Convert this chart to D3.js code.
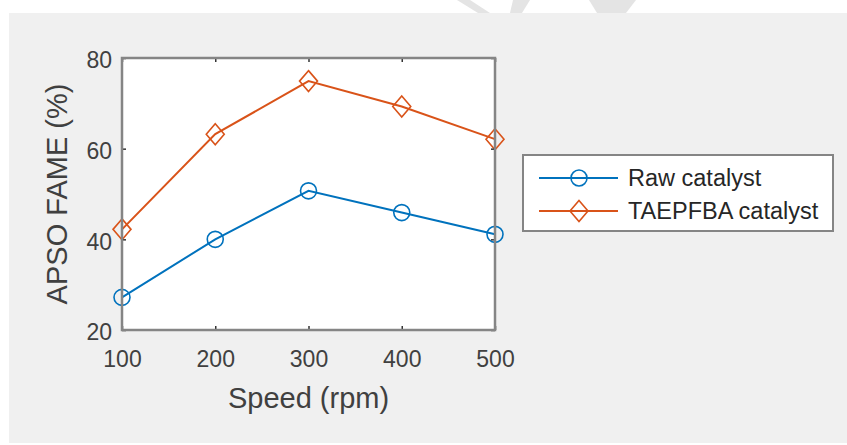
<!DOCTYPE html>
<html>
<head>
<meta charset="utf-8">
<script src="https://cdn.jsdelivr.net/npm/d3@7"></script>
<style>
  body { margin: 0; background: #fff; }
  svg { display: block; font-family: "Liberation Sans", Arial, Helvetica, sans-serif; }
</style>
</head>
<body>
<div id="chart"></div>
<script>
// data
const speeds = [100, 200, 300, 400, 500];
const rawFame = [27.2, 40.0, 50.7, 45.9, 41.1];
const taepfbaFame = [42.2, 63.2, 74.9, 69.3, 62.1];
const xTicks = [100, 200, 300, 400, 500];
const yTicks = [20, 40, 60, 80];
const seriesNames = ['Raw catalyst', 'TAEPFBA catalyst'];

const W = 847, H = 445;
const margin = {top: 58, left: 122, right: 352, bottom: 115};
const blue = '#0072BD', orange = '#D95319';
const boxColor = '#858585';

const svg = d3.select('#chart').append('svg').attr('width', W).attr('height', H);

// figure background
svg.append('rect').attr('x', 9).attr('y', 13).attr('width', W - 9).attr('height', 430).attr('fill', '#f0f0f0');

// faint watermark bits in the top strip
svg.append('path').attr('d', 'M457,0 L478,13 L490,13 L470,0 Z').attr('fill', '#e4e4e4');
svg.append('path').attr('d', 'M513,0 L530,0 L522,13 L510,13 Z').attr('fill', '#e4e4e4');
svg.append('path').attr('d', 'M589,0 L636,0 L626,13 L597,13 Z').attr('fill', '#e4e4e4');

const x = d3.scaleLinear().domain([100, 500]).range([margin.left, W - margin.right]);
const y = d3.scaleLinear().domain([20, 80]).range([H - margin.bottom, margin.top]);

// plot area
svg.append('rect')
  .attr('x', x(100)).attr('y', y(80))
  .attr('width', x(500) - x(100)).attr('height', y(20) - y(80))
  .attr('fill', '#fff');

// lines + markers
const lineFun = d3.line().x(d => x(d[0])).y(d => y(d[1]));
const rawPts = speeds.map((s, i) => [s, rawFame[i]]);
const taePts = speeds.map((s, i) => [s, taepfbaFame[i]]);

function diamond(cx, cy) {
  return `M${cx},${cy - 10.5} L${cx + 9},${cy} L${cx},${cy + 10.5} L${cx - 9},${cy} Z`;
}

svg.append('path').datum(taePts).attr('d', lineFun)
  .attr('fill', 'none').attr('stroke', orange).attr('stroke-width', 2);
svg.selectAll('.dia').data(taePts).enter().append('path')
  .attr('class', 'dia')
  .attr('d', d => diamond(x(d[0]), y(d[1])))
  .attr('fill', 'none').attr('stroke', orange).attr('stroke-width', 1.6);

svg.append('path').datum(rawPts).attr('d', lineFun)
  .attr('fill', 'none').attr('stroke', blue).attr('stroke-width', 2);
svg.selectAll('.dot').data(rawPts).enter().append('circle')
  .attr('class', 'dot')
  .attr('cx', d => x(d[0])).attr('cy', d => y(d[1])).attr('r', 8)
  .attr('fill', 'none').attr('stroke', blue).attr('stroke-width', 1.6);

// axes (ticks inward on all four sides)
function styleAxis(g) {
  g.select('.domain').remove();
  g.selectAll('.tick line').attr('stroke', '#333').attr('stroke-width', 1.5);
  g.selectAll('.tick text').attr('fill', '#404040').style('font-size', '23px');
}

svg.append('g')
  .attr('transform', `translate(0,${y(20)})`)
  .call(d3.axisBottom(x).tickValues(xTicks).tickSizeInner(-4).tickSizeOuter(0).tickPadding(21))
  .call(styleAxis);

svg.append('g')
  .attr('transform', `translate(0,${y(80)})`)
  .call(d3.axisTop(x).tickValues(xTicks).tickSizeInner(-4).tickSizeOuter(0).tickFormat(''))
  .call(styleAxis);

svg.append('g')
  .attr('transform', `translate(${x(100)},0)`)
  .call(d3.axisLeft(y).tickValues(yTicks).tickSizeInner(-4).tickSizeOuter(0).tickPadding(10))
  .call(styleAxis)
  .selectAll('.tick text').attr('dy', '0.42em');

svg.append('g')
  .attr('transform', `translate(${x(500)},0)`)
  .call(d3.axisRight(y).tickValues(yTicks).tickSizeInner(-4).tickSizeOuter(0).tickFormat(''))
  .call(styleAxis);

// axes box
svg.append('rect')
  .attr('x', x(100)).attr('y', y(80))
  .attr('width', x(500) - x(100)).attr('height', y(20) - y(80))
  .attr('fill', 'none').attr('stroke', boxColor).attr('stroke-width', 2.5);

// axis labels
svg.append('text')
  .attr('x', (x(100) + x(500)) / 2).attr('y', 408)
  .attr('text-anchor', 'middle').attr('fill', '#404040')
  .style('font-size', '29px')
  .text('Speed (rpm)');

svg.append('text')
  .attr('transform', `translate(67,${(y(20) + y(80)) / 2}) rotate(-90)`)
  .attr('text-anchor', 'middle').attr('fill', '#404040')
  .style('font-size', '29px')
  .text('APSO FAME (%)');

// legend
const legend = svg.append('g');
legend.append('rect')
  .attr('x', 523).attr('y', 155).attr('width', 310).attr('height', 76)
  .attr('fill', '#fff').attr('stroke', boxColor).attr('stroke-width', 2);

const rowsY = [178, 211];
const colors = [blue, orange];
seriesNames.forEach((name, i) => {
  legend.append('line')
    .attr('x1', 539).attr('x2', 618).attr('y1', rowsY[i]).attr('y2', rowsY[i])
    .attr('stroke', colors[i]).attr('stroke-width', 2);
  if (i === 0) {
    legend.append('circle').attr('cx', 579).attr('cy', rowsY[i]).attr('r', 8)
      .attr('fill', 'none').attr('stroke', colors[i]).attr('stroke-width', 1.6);
  } else {
    legend.append('path').attr('d', diamond(579, rowsY[i]))
      .attr('fill', 'none').attr('stroke', colors[i]).attr('stroke-width', 1.6);
  }
  legend.append('text')
    .attr('x', 628).attr('y', rowsY[i]).attr('dy', '0.36em')
    .attr('fill', '#262626').style('font-size', '23.5px')
    .text(name);
});
</script>
</body>
</html>
